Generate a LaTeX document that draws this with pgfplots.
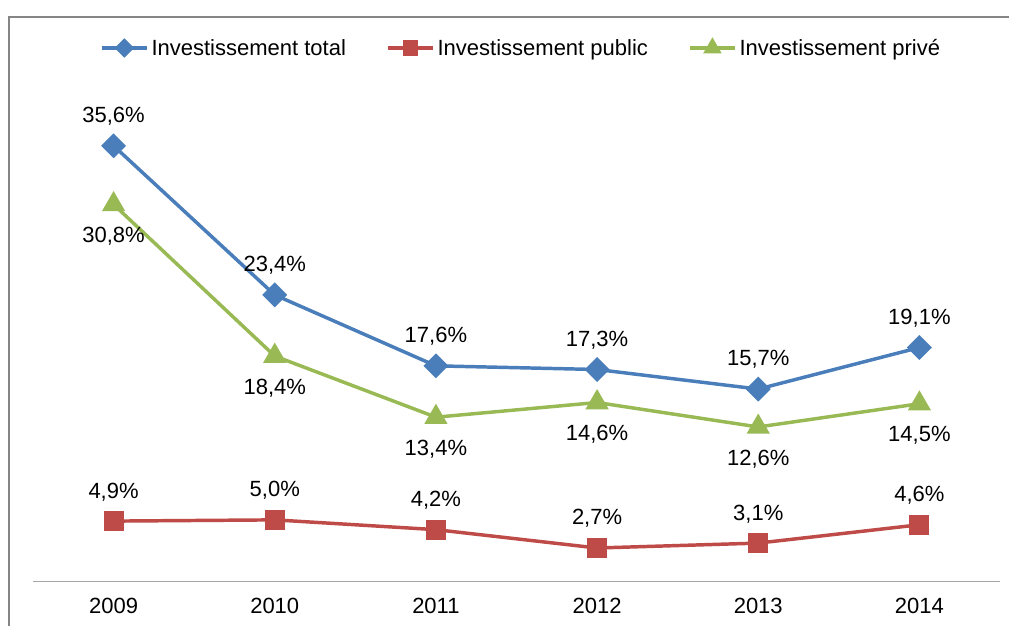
\documentclass[border=0pt]{standalone}
\usepackage{fontspec}
\setmainfont{Liberation Sans}
\usepackage{pgfplots}
\pgfplotsset{compat=1.18}
\definecolor{cblue}{HTML}{4A7EBB}
\definecolor{cred}{HTML}{BE4B48}
\definecolor{cgreen}{HTML}{98B954}
\definecolor{frame}{HTML}{858585}
\definecolor{axgray}{HTML}{A6A6A6}
\newcommand{\lab}{\fontsize{16.5}{19.8}\selectfont}
\newcommand{\lstrut}{\rule[-4pt]{0pt}{17pt}}
\begin{document}
\begin{tikzpicture}[x=0.75pt,y=0.75pt]
\useasboundingbox (0,0) rectangle (1009,626);
\draw[frame, line width=1.5pt] (9,0) -- (9,609) -- (1009,609);
\begin{axis}[
  at={(24.75pt,33.75pt)}, anchor=south west,
  scale only axis, width=725.25pt, height=366.75pt,
  xmin=-0.5, xmax=5.5, ymin=0, ymax=40,
  axis x line*=bottom, axis y line=none,
  x axis line style={axgray, line width=0.75pt},
  xtick={0,...,5},
  xticklabels={2009,2010,2011,2012,2013,2014},
  major tick length=0pt,
  xticklabel style={font=\lab, text=black, anchor=center, yshift=-19pt},
  /pgf/number format/assume math mode=true,
  /pgf/number format/.cd, use comma, fixed, fixed zerofill, precision=1,
  /pgfplots/.cd,
  point meta=y,
  nodes near coords={\pgfmathprintnumber{\pgfplotspointmeta}\%},
  every node near coord/.append style={font=\lab, text=black, anchor=center, inner sep=0pt},
  legend columns=3,
  legend style={draw=none, fill=none, font=\lab, at={(0.505,1.09)}, anchor=center,
    /tikz/every even column/.append style={column sep=28pt}},
  legend image code/.code={\draw[mark repeat=2,mark phase=2, every mark/.append style={scale=0.72}] plot coordinates {(0cm,0cm) (0.6cm,0cm) (1.2cm,0cm)};},
  clip=false,
]
\addplot[cblue, line width=2.6pt, mark=square*, mark size=5.3pt,
  mark options={rotate=45, solid},
  every node near coord/.append style={yshift=22pt}]
  coordinates {(0,35.6) (1,23.4) (2,17.6) (3,17.3) (4,15.7) (5,19.1)};
\addlegendentry{\lstrut Investissement total}
\addplot[cred, line width=2.6pt, mark=square*, mark size=6.2pt,
  every node near coord/.append style={yshift=22pt}]
  coordinates {(0,4.9) (1,5.0) (2,4.2) (3,2.7) (4,3.1) (5,4.6)};
\addlegendentry{\lstrut Investissement public}
\addplot[cgreen, line width=2.6pt, mark=triangle*, mark size=7.5pt,
  every node near coord/.append style={yshift=-24pt}]
  coordinates {(0,30.8) (1,18.4) (2,13.4) (3,14.6) (4,12.6) (5,14.5)};
\addlegendentry{\lstrut Investissement privé}
\end{axis}
\end{tikzpicture}
\end{document}
